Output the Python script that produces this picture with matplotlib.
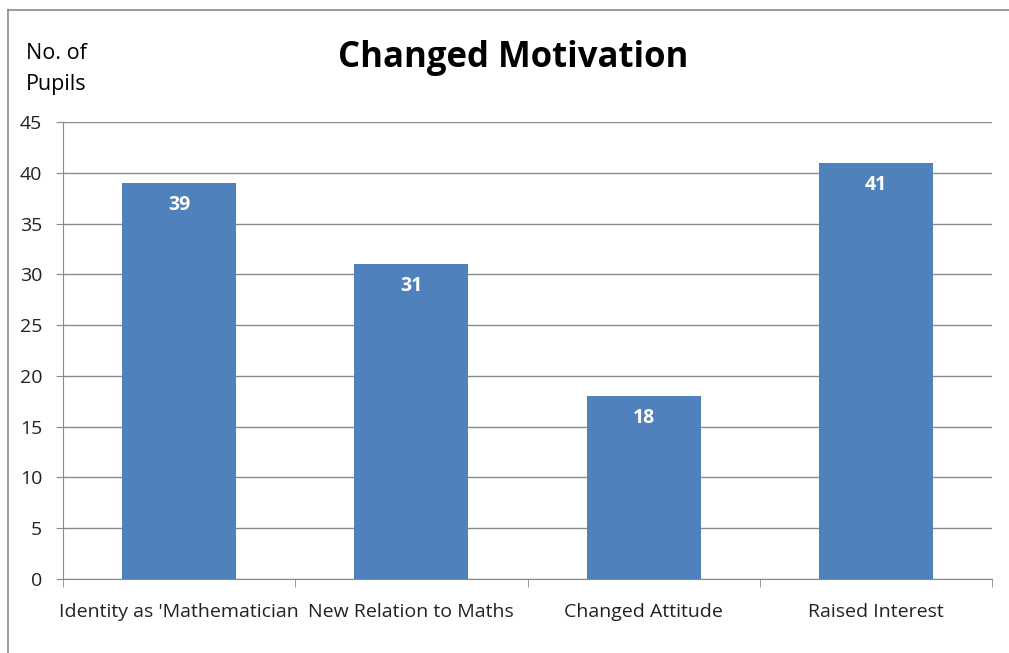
import matplotlib
matplotlib.use("Agg")
import matplotlib.pyplot as plt
from matplotlib.lines import Line2D

categories = ["Identity as 'Mathematician", "New Relation to Maths", "Changed Attitude", "Raised Interest"]
values = [39, 31, 18, 41]
yticks = [0, 5, 10, 15, 20, 25, 30, 35, 40, 45]

W, H = 1009, 653
plt.rcParams['font.family'] = ['Open Sans', 'DejaVu Sans']
fig = plt.figure(figsize=(W/100, H/100), dpi=100)
ax = fig.add_axes([63/W, (H-579)/H, (992-63)/W, (579-122)/H])

x = list(range(len(categories)))
bars = ax.bar(x, values, width=0.49, color='#4F81BD', zorder=3)
ax.set_xlim(-0.5, len(categories)-0.5)
ax.set_ylim(0, 45)
ax.set_yticks(yticks)
ax.set_yticklabels([str(t) for t in yticks], fontsize=14, color='#222222')
ax.grid(axis='y', color='#8a8a8a', linewidth=1, zorder=0)
ax.set_xticks(x)
ax.set_xticklabels(categories, fontsize=14, color='#222222')
ax.tick_params(axis='x', length=0, pad=17)
ax.tick_params(axis='y', length=5, color='#8a8a8a', pad=10)
# category boundary ticks
ax.set_xticks([i - 0.5 for i in range(len(categories)+1)], minor=True)
ax.tick_params(axis='x', which='minor', length=6, color='#8a8a8a')
for s in ['top', 'right']:
    ax.spines[s].set_visible(False)
for s in ['left', 'bottom']:
    ax.spines[s].set_color('#8a8a8a')

for xi, v in zip(x, values):
    ax.annotate(str(v), (xi, v), xytext=(0, -16), textcoords='offset points',
                ha='center', va='center', color='white', fontsize=14, fontweight='bold', zorder=4)

fig.text(513/W, 1-58/H, "Changed Motivation", ha='center', va='center', fontsize=25, fontweight='bold')
fig.text(26/W, 1-69/H, "No. of\nPupils", ha='left', va='center', fontsize=15.5, linespacing=1.65)

fig.add_artist(Line2D([8/W, 8/W], [0, 1-10/H], color='#8a8a8a', linewidth=1.2))
fig.add_artist(Line2D([8/W, 1], [1-10/H, 1-10/H], color='#8a8a8a', linewidth=1.2))

fig.savefig("out.png", dpi=100)
